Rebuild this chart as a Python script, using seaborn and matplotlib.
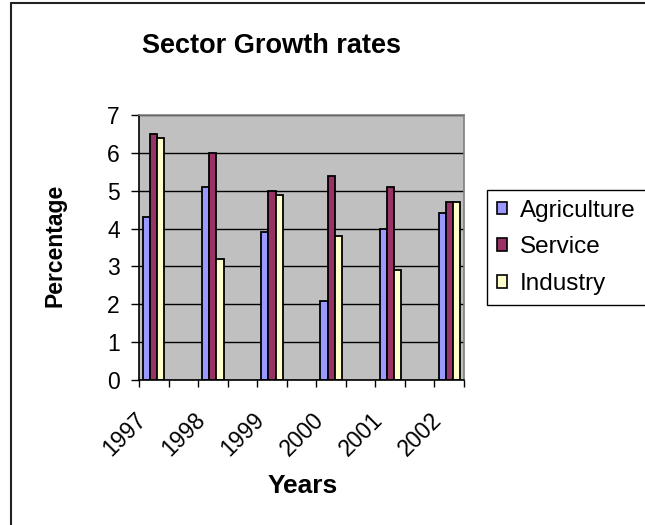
import numpy as np
import pandas as pd
import matplotlib
matplotlib.use("Agg")
import matplotlib.pyplot as plt
from matplotlib.lines import Line2D
from matplotlib.patches import Patch
from matplotlib.transforms import ScaledTranslation
import seaborn as sns

# ---- data ----
years = ["1997", "1998", "1999", "2000", "2001", "2002"]
agriculture = [4.3, 5.1, 3.9, 2.1, 4.0, 4.4]
service = [6.5, 6.0, 5.0, 5.4, 5.1, 4.7]
industry = [6.4, 3.2, 4.9, 3.8, 2.9, 4.7]
series_names = ["Agriculture", "Service", "Industry"]
colors = {"Agriculture": "#9999FF", "Service": "#993366", "Industry": "#FFFFCC"}

sns.set_style("white")
plt.rcParams["font.family"] = ["Liberation Sans", "DejaVu Sans"]
for k in ["text.color", "axes.labelcolor", "xtick.color", "ytick.color"]:
    plt.rcParams[k] = "black"

rows = []
for name, vals in zip(series_names, [agriculture, service, industry]):
    for y, v in zip(years, vals):
        rows.append({"Year": y, "Sector": name, "Value": v})
df = pd.DataFrame(rows)

# Excel-style category axis: an empty category between consecutive years
order = []
for i, y in enumerate(years):
    order.append(y)
    if i < len(years) - 1:
        order.append(f"_gap{i}")

W, H = 645, 525
fig = plt.figure(figsize=(W / 100, H / 100), dpi=100)
ax = fig.add_axes([139 / W, 1 - 380 / H, (464 - 139) / W, (380 - 115) / H])
ax.set_facecolor("#C0C0C0")

sns.barplot(data=df, x="Year", y="Value", hue="Sector", order=order,
            hue_order=series_names, palette=colors, saturation=1,
            width=0.72, errorbar=None, edgecolor="black", linewidth=1.3,
            legend=False, ax=ax)

label_pos = [order.index(y) for y in years]
ax.set_xticks(label_pos)
ax.set_xticklabels(years, rotation=45, ha="right", va="top",
                   rotation_mode="anchor", fontsize=16.5)
ax.set_xticks(np.arange(-0.5, len(order), 1), minor=True)
ax.set_xlim(-0.5, len(order) - 0.5)
ax.set_ylim(0, 7)
ax.set_yticks(range(0, 8))
ax.yaxis.grid(True, color="black", linewidth=1)
ax.set_axisbelow(True)

ax.tick_params(axis="x", which="major", length=0, pad=20.5)
ax.tick_params(axis="x", which="minor", length=5, width=1, color="black",
               direction="out", bottom=True)
ax.tick_params(axis="y", length=5.8, width=1, color="black", direction="out",
               pad=8, labelsize=16.5, left=True)
# rotated labels end a little left of the category centre
offset = ScaledTranslation(-19 / 100, 0, fig.dpi_scale_trans)
for lab in ax.get_xticklabels():
    lab.set_transform(lab.get_transform() + offset)

ax.set_xlabel("")
ax.set_ylabel("")
for side in ["left", "bottom"]:
    ax.spines[side].set_color("black")
    ax.spines[side].set_linewidth(1.2)
for side in ["top", "right"]:
    ax.spines[side].set_visible(True)
    ax.spines[side].set_color("#808080")
    ax.spines[side].set_linewidth(1.2)

# titles
fig.text(271 / W, 1 - 53 / H, "Sector Growth rates", ha="center",
         va="baseline", fontsize=19.5, fontweight="bold")
fig.text(303 / W, 1 - 493 / H, "Years", ha="center", va="baseline",
         fontsize=19, fontweight="bold")
fig.text(61 / W, 1 - 245.5 / H, "Percentage", ha="center", va="baseline",
         rotation=90, rotation_mode="anchor", fontsize=16.5,
         fontweight="bold")

# legend
handles = [Patch(facecolor=colors[n], edgecolor="black", linewidth=1.2)
           for n in series_names]
leg = fig.legend(handles, series_names, loc="upper left",
                 bbox_to_anchor=(487 / W, 1 - 190 / H), fontsize=17.5,
                 frameon=True, fancybox=False, shadow=False, framealpha=1,
                 edgecolor="black", borderaxespad=0, borderpad=0.4,
                 handlelength=0.43, handleheight=0.43, handletextpad=0.53,
                 labelspacing=0.6)
leg.get_frame().set_linewidth(1.0)

# chart area border (top and left edges visible)
fig.add_artist(Line2D([11 / W, 11 / W], [0, 1 - 3 / H], color="#222222",
                      linewidth=1.5, transform=fig.transFigure))
fig.add_artist(Line2D([11 / W, 1], [1 - 3 / H, 1 - 3 / H], color="#222222",
                      linewidth=1.5, transform=fig.transFigure))

fig.savefig("out.png", dpi=100)
